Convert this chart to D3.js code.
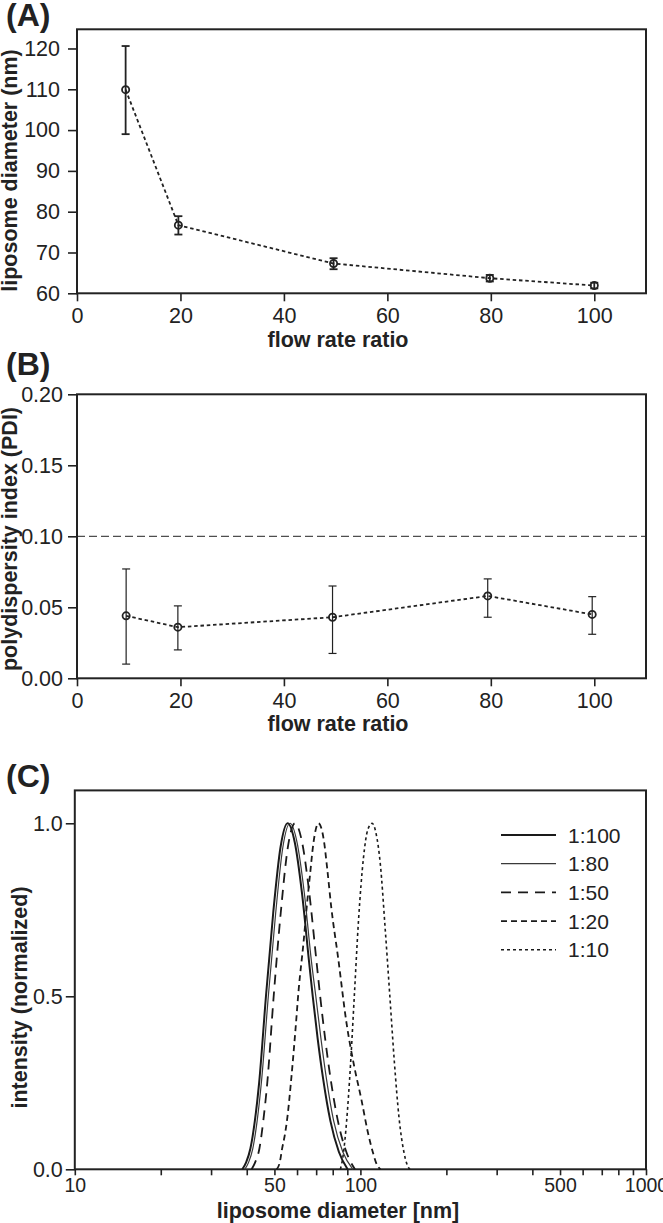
<!DOCTYPE html>
<html>
<head>
<meta charset="utf-8">
<script src="https://cdn.jsdelivr.net/npm/d3@7"></script>
<style>
  body { margin: 0; background: #fff; }
  svg { display: block; font-family: "Liberation Sans", Arial, sans-serif; }
  .tick text { font-family: "Liberation Sans", Arial, sans-serif; font-size: 21.5px; fill: #222; }
  .tick line { stroke: #222; stroke-width: 1.6; }
  .log-axis .tick text { font-size: 19.5px; }
  .axis-title { font-family: "Liberation Sans", Arial, sans-serif; font-weight: bold; font-size: 21.5px; fill: #222; }
  .panel-tag { font-family: "Liberation Sans", Arial, sans-serif; font-weight: bold; font-size: 32px; fill: #222; }
  .legend-text { font-family: "Liberation Sans", Arial, sans-serif; font-size: 21px; fill: #222; }
</style>
</head>
<body>
<svg id="fig" width="663" height="1223"></svg>
<script>
// ---- (A) liposome size vs flow rate ratio ----
const ratioA   = [9.4, 19.6, 49.6, 79.8, 100];
const sizeMean = [109.9, 76.7, 67.3, 63.7, 61.9];
const sizeHi   = [120.6, 78.9, 68.6, 64.5, 62.6];
const sizeLo   = [99.0, 74.4, 65.9, 62.9, 61.2];

// ---- (B) PDI vs flow rate ratio ----
const ratioB   = [9.5, 19.5, 49.4, 79.4, 99.6];
const pdiMean  = [0.044, 0.036, 0.043, 0.058, 0.045];
const pdiHi    = [0.077, 0.051, 0.065, 0.070, 0.0575];
const pdiLo    = [0.010, 0.020, 0.0175, 0.043, 0.031];
const pdiLimit = 0.10;

const ticksA = [60, 70, 80, 90, 100, 110, 120];
const ticksB = [0, 0.05, 0.10, 0.15, 0.20];
const ticksX = [0, 20, 40, 60, 80, 100];

// ---- (C) size distributions ----
const distLabels = ['1:100', '1:80', '1:50', '1:20', '1:10'];
const diam100 = [38.6, 39.8, 41.2, 42.7, 44.2, 46.7, 49.5, 52.5, 55.6, 58.9, 62.4, 66.1, 68.1, 70.8, 74.1, 78.5, 84.1, 90.2];
const int100  = [0, 0.02, 0.06, 0.14, 0.25, 0.5, 0.74, 0.93, 1, 0.945, 0.80, 0.60, 0.5, 0.38, 0.26, 0.14, 0.05, 0];
const diam80  = [39.4, 40.6, 42.0, 43.5, 45.0, 47.6, 50.5, 53.5, 56.7, 60.0, 63.6, 67.4, 69.8, 72.7, 76.1, 80.6, 86.8, 94.1];
const int80   = [0, 0.02, 0.06, 0.14, 0.25, 0.5, 0.74, 0.93, 1, 0.945, 0.80, 0.60, 0.5, 0.38, 0.26, 0.14, 0.05, 0];
const diam50  = [41.6, 42.8, 44.3, 45.7, 47.2, 49.7, 52.6, 55.7, 59.0, 62.5, 66.2, 70.2, 72.3, 75.2, 78.7, 83.4, 89.3, 95.7];
const int50   = [0, 0.02, 0.06, 0.14, 0.25, 0.5, 0.74, 0.93, 1, 0.945, 0.80, 0.60, 0.5, 0.38, 0.26, 0.14, 0.05, 0];
const diam20  = [50.9, 52.2, 53.2, 54.4, 55.5, 57.1, 59.2, 60.8, 63.3, 64.9, 66.6, 68.4, 71.3, 74.5, 76.5, 79, 83.6, 89.5, 95, 100.9, 106, 110.5, 114, 117.5];
const int20   = [0, 0.02, 0.06, 0.10, 0.15, 0.25, 0.40, 0.52, 0.66, 0.76, 0.85, 0.94, 1.0, 0.95, 0.87, 0.76, 0.61, 0.42, 0.30, 0.20, 0.11, 0.05, 0.015, 0];
const diam10  = [85.1, 87.0, 89.5, 92.3, 95.2, 98.5, 102.5, 106, 109.9, 113.5, 117.5, 122, 126.8, 131.5, 136.5, 142, 145.5, 149];
const int10   = [0, 0.04, 0.14, 0.30, 0.5, 0.72, 0.90, 0.98, 1.0, 0.97, 0.88, 0.70, 0.5, 0.31, 0.15, 0.05, 0.015, 0];

const ticksCy     = [0, 0.5, 1.0];
const ticksClabel = [10, 50, 100, 500, 1000];
const ticksCminor = [20, 30, 40, 60, 70, 80, 90, 200, 300, 400, 600, 700, 800, 900];

const ink = '#222';
const svg = d3.select('#fig');

function frame(x, y) {
  const [x0, x1] = x.range(), [y0, y1] = y.range();
  svg.append('rect')
    .attr('x', x0).attr('y', y1)
    .attr('width', x1 - x0).attr('height', y0 - y1)
    .attr('fill', 'none').attr('stroke', ink).attr('stroke-width', 2);
}

function axes(x, y, xTicks, yTicks, yFmt, yPad) {
  const gx = svg.append('g').attr('transform', `translate(0,${y.range()[0]})`)
    .call(d3.axisBottom(x).tickValues(xTicks).tickSizeOuter(0).tickSize(8).tickPadding(6));
  gx.select('.domain').remove();
  const gy = svg.append('g').attr('transform', `translate(${x.range()[0]},0)`)
    .call(d3.axisLeft(y).tickValues(yTicks).tickFormat(yFmt).tickSizeOuter(0).tickSize(9).tickPadding(yPad));
  gy.select('.domain').remove();
}

function scatter(x, y, xs, mean, lo, hi, o) {
  const pts = xs.map((v, i) => ({ x: v, m: mean[i], lo: lo[i], hi: hi[i] }));
  svg.append('path')
    .datum(pts)
    .attr('fill', 'none').attr('stroke', ink)
    .attr('stroke-width', 1.8).attr('stroke-dasharray', '3.5,2.8')
    .attr('d', d3.line().x(d => x(d.x)).y(d => y(d.m)));
  const g = svg.append('g').attr('stroke', ink).attr('stroke-width', o.bar);
  g.selectAll('.eb').data(pts).join('line')
    .attr('x1', d => x(d.x)).attr('x2', d => x(d.x))
    .attr('y1', d => y(d.lo)).attr('y2', d => y(d.hi));
  ['lo', 'hi'].forEach(k => {
    g.selectAll('.cap-' + k).data(pts).join('line')
      .attr('x1', d => x(d.x) - 4).attr('x2', d => x(d.x) + 4)
      .attr('y1', d => y(d[k])).attr('y2', d => y(d[k]));
  });
  svg.append('g').selectAll('circle').data(pts).join('circle')
    .attr('cx', d => x(d.x)).attr('cy', d => y(d.m)).attr('r', 3.6)
    .attr('fill', 'none').attr('stroke', ink).attr('stroke-width', 1.8);
}

function yTitle(text, x, y) {
  svg.append('text').attr('class', 'axis-title')
    .attr('transform', `translate(${x},${y}) rotate(-90)`)
    .attr('text-anchor', 'middle').text(text);
}
function xTitle(text, x, y) {
  svg.append('text').attr('class', 'axis-title')
    .attr('x', x).attr('y', y).attr('text-anchor', 'middle').text(text);
}
function tag(text, x, y) {
  svg.append('text').attr('class', 'panel-tag').attr('x', x).attr('y', y).text(text);
}

// --- Panel A ---
const xA = d3.scaleLinear().domain([0, 110]).range([77, 646]);
const yA = d3.scaleLinear().domain([60, 124.7]).range([293.3, 29.3]);
frame(xA, yA);
axes(xA, yA, ticksX, ticksA, d3.format('d'), 8);
scatter(xA, yA, ratioA, sizeMean, sizeLo, sizeHi, { bar: 1.8 });
tag('(A)', 6, 26);
yTitle('liposome diameter (nm)', 16.5, 170.5);
xTitle('flow rate ratio', 338, 347);

// --- Panel B ---
const xB = d3.scaleLinear().domain([0, 110]).range([77, 646]);
const yB = d3.scaleLinear().domain([0, 0.2]).range([678.3, 394.3]);
frame(xB, yB);
svg.append('line')
  .attr('x1', xB.range()[0]).attr('x2', xB.range()[1])
  .attr('y1', yB(pdiLimit)).attr('y2', yB(pdiLimit))
  .attr('stroke', ink).attr('stroke-width', 1).attr('stroke-dasharray', '8,4');
axes(xB, yB, ticksX, ticksB, d3.format('.2f'), 5);
scatter(xB, yB, ratioB, pdiMean, pdiLo, pdiHi, { bar: 1.2 });
tag('(B)', 6, 375);
yTitle('polydispersity index (PDI)', 17, 539);
xTitle('flow rate ratio', 338, 731);

// --- Panel C ---
const xC = d3.scaleLog().domain([10, 1000]).range([74.8, 646]);
const yC = d3.scaleLinear().domain([0, 1.095]).range([1169.3, 790.4]);
frame(xC, yC);
const gxC = svg.append('g').attr('class', 'log-axis')
  .attr('transform', `translate(0,${yC.range()[0]})`)
  .call(d3.axisBottom(xC)
    .tickValues(ticksClabel.concat(ticksCminor))
    .tickFormat(d => ticksClabel.includes(d) ? d : '')
    .tickSizeOuter(0).tickSize(6).tickPadding(3));
gxC.select('.domain').remove();
const gyC = svg.append('g').attr('transform', `translate(${xC.range()[0]},0)`)
  .call(d3.axisLeft(yC).tickValues(ticksCy).tickFormat(d3.format('.1f'))
    .tickSizeOuter(0).tickSize(9).tickPadding(3));
gyC.select('.domain').remove();

const distSeries = [
  { label: distLabels[0], d: diam100, v: int100, w: 2.0, c: '#1a1a1a', dash: null },
  { label: distLabels[1], d: diam80,  v: int80,  w: 1.2, c: '#3a3a3a', dash: null },
  { label: distLabels[2], d: diam50,  v: int50,  w: 1.8, c: '#1a1a1a', dash: '10,7' },
  { label: distLabels[3], d: diam20,  v: int20,  w: 1.8, c: '#1a1a1a', dash: '6,4' },
  { label: distLabels[4], d: diam10,  v: int10,  w: 1.6, c: '#1a1a1a', dash: '3,3' }
];
const lineC = d3.line().curve(d3.curveMonotoneX)
  .x(p => xC(p[0])).y(p => yC(p[1]));
distSeries.forEach(s => {
  svg.append('path')
    .datum(s.d.map((d, i) => [d, s.v[i]]))
    .attr('fill', 'none').attr('stroke', s.c).attr('stroke-width', s.w)
    .attr('stroke-dasharray', s.dash)
    .attr('d', lineC);
});

// legend
const leg = svg.append('g').attr('transform', 'translate(501,835)');
distSeries.forEach((s, i) => {
  const gy = i * 28.7;
  leg.append('line').attr('x1', 0).attr('x2', 55).attr('y1', gy).attr('y2', gy)
    .attr('stroke', s.c).attr('stroke-width', s.w).attr('stroke-dasharray', s.dash);
  leg.append('text').attr('class', 'legend-text')
    .attr('x', 67).attr('y', gy).attr('dy', '0.36em').text(s.label);
});

tag('(C)', 6, 787);
yTitle('intensity (normalized)', 27, 997.5);
xTitle('liposome diameter [nm]', 338, 1218);
</script>
</body>
</html>
